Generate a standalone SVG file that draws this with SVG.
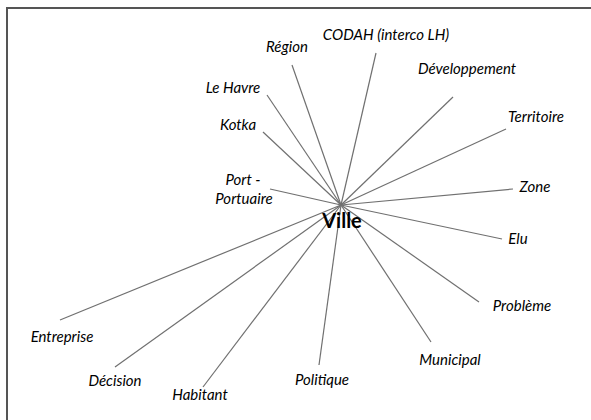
<svg xmlns="http://www.w3.org/2000/svg" width="591" height="420" viewBox="0 0 591 420">
<style>
.lbl{font-family:Lato,"Open Sans","Liberation Sans",sans-serif;font-style:italic;font-size:15px;fill:#000}
.ctr{font-family:Lato,"Open Sans","Liberation Sans",sans-serif;font-weight:bold;font-size:20px;fill:#000}
.edge{stroke:#707070;stroke-width:1.2;fill:none}
</style>
<rect x="0" y="0" width="591" height="420" fill="#fff"/>
<path d="M7 420 V8 H591" fill="none" stroke="#555" stroke-width="2"/>
<g id="connectors">
<line class="edge" x1="341" y1="205" x2="376" y2="53"/>
<line class="edge" x1="341" y1="205" x2="292" y2="65"/>
<line class="edge" x1="341" y1="205" x2="267" y2="95"/>
<line class="edge" x1="341" y1="205" x2="263" y2="132"/>
<line class="edge" x1="341" y1="205" x2="453" y2="97"/>
<line class="edge" x1="341" y1="205" x2="506" y2="129"/>
<line class="edge" x1="341" y1="205" x2="513" y2="189"/>
<line class="edge" x1="341" y1="205" x2="502" y2="239"/>
<line class="edge" x1="341" y1="205" x2="270" y2="189"/>
<line class="edge" x1="341" y1="205" x2="60" y2="320"/>
<line class="edge" x1="341" y1="205" x2="115" y2="367"/>
<line class="edge" x1="341" y1="205" x2="203" y2="387"/>
<line class="edge" x1="341" y1="205" x2="319" y2="365"/>
<line class="edge" x1="341" y1="205" x2="431" y2="342"/>
<line class="edge" x1="341" y1="205" x2="479" y2="302"/>
</g>
<g id="ville"><text class="ctr" x="342" y="228" text-anchor="middle">Ville</text></g>
<g id="codah"><text class="lbl" x="386" y="40" text-anchor="middle">CODAH (interco LH)</text></g>
<g id="region"><text class="lbl" x="287" y="52" text-anchor="middle">Région</text></g>
<g id="lehavre"><text class="lbl" x="233" y="93" text-anchor="middle">Le Havre</text></g>
<g id="kotka"><text class="lbl" x="238" y="130" text-anchor="middle">Kotka</text></g>
<g id="developpement"><text class="lbl" x="467" y="74" text-anchor="middle">Développement</text></g>
<g id="territoire"><text class="lbl" x="536" y="122" text-anchor="middle">Territoire</text></g>
<g id="zone"><text class="lbl" x="535" y="192" text-anchor="middle">Zone</text></g>
<g id="elu"><text class="lbl" x="518" y="244" text-anchor="middle">Elu</text></g>
<g id="port"><text class="lbl" x="243" y="185" text-anchor="middle">Port -</text><text class="lbl" x="244" y="204" text-anchor="middle">Portuaire</text></g>
<g id="entreprise"><text class="lbl" x="62" y="342" text-anchor="middle">Entreprise</text></g>
<g id="decision"><text class="lbl" x="115" y="386" text-anchor="middle">Décision</text></g>
<g id="habitant"><text class="lbl" x="200" y="400" text-anchor="middle">Habitant</text></g>
<g id="politique"><text class="lbl" x="322" y="385" text-anchor="middle">Politique</text></g>
<g id="municipal"><text class="lbl" x="450" y="365" text-anchor="middle">Municipal</text></g>
<g id="probleme"><text class="lbl" x="522" y="311" text-anchor="middle">Problème</text></g>
</svg>
